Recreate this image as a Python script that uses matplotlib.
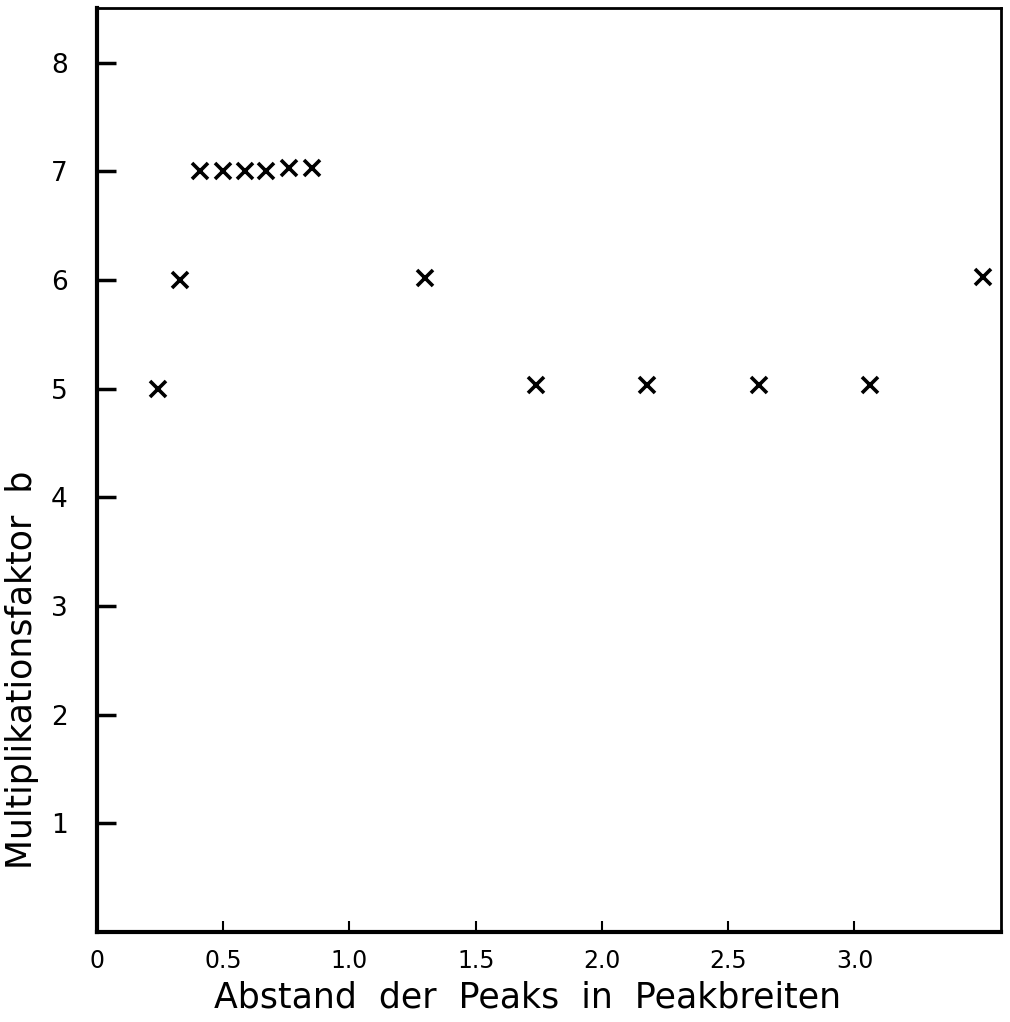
import matplotlib
matplotlib.use("Agg")
import matplotlib.pyplot as plt

# distance of peaks (in peak widths) and multiplication factor b
abstand = [0.24, 0.33, 0.41, 0.50, 0.585, 0.67, 0.76, 0.85, 1.30, 1.74, 2.18, 2.62, 3.06, 3.51]
faktor = [5.0, 6.0, 7.0, 7.0, 7.0, 7.0, 7.03, 7.03, 6.02, 5.03, 5.03, 5.03, 5.03, 6.03]

x_ticks = [0, 0.5, 1.0, 1.5, 2.0, 2.5, 3.0]
x_labels = ["0", "0.5", "1.0", "1.5", "2.0", "2.5", "3.0"]
y_ticks = [1, 2, 3, 4, 5, 6, 7, 8]

plt.rcParams["font.family"] = ["DejaVu Sans"]

fig = plt.figure(figsize=(10.10, 10.22), dpi=100)
ax = fig.add_axes([0.096, 0.088, 0.895, 0.904])

ax.plot(abstand, faktor, "x", color="black", markersize=12, markeredgewidth=2.6)

ax.set_xlim(0, 3.58)
ax.set_ylim(0, 8.5)
ax.set_xticks(x_ticks)
ax.set_xticklabels(x_labels)
ax.set_yticks(y_ticks)

ax.tick_params(axis="x", direction="in", length=8, width=1.5, labelsize=17, pad=12)
ax.tick_params(axis="y", direction="in", length=14, width=2.5, labelsize=19, pad=21)
# no tick mark at x=0, only the label
ax.xaxis.get_major_ticks()[0].tick1line.set_visible(False)

for side in ["left", "bottom"]:
    ax.spines[side].set_linewidth(3)
for side in ["top", "right"]:
    ax.spines[side].set_linewidth(2)

ax.set_xlabel("Abstand  der  Peaks  in  Peakbreiten", fontsize=25)
ax.xaxis.set_label_coords(0.476, -0.052)
ax.set_ylabel("Multiplikationsfaktor  b", fontsize=25)
ax.yaxis.set_label_coords(-0.064, 0.284)

fig.savefig("out.png", dpi=100)
